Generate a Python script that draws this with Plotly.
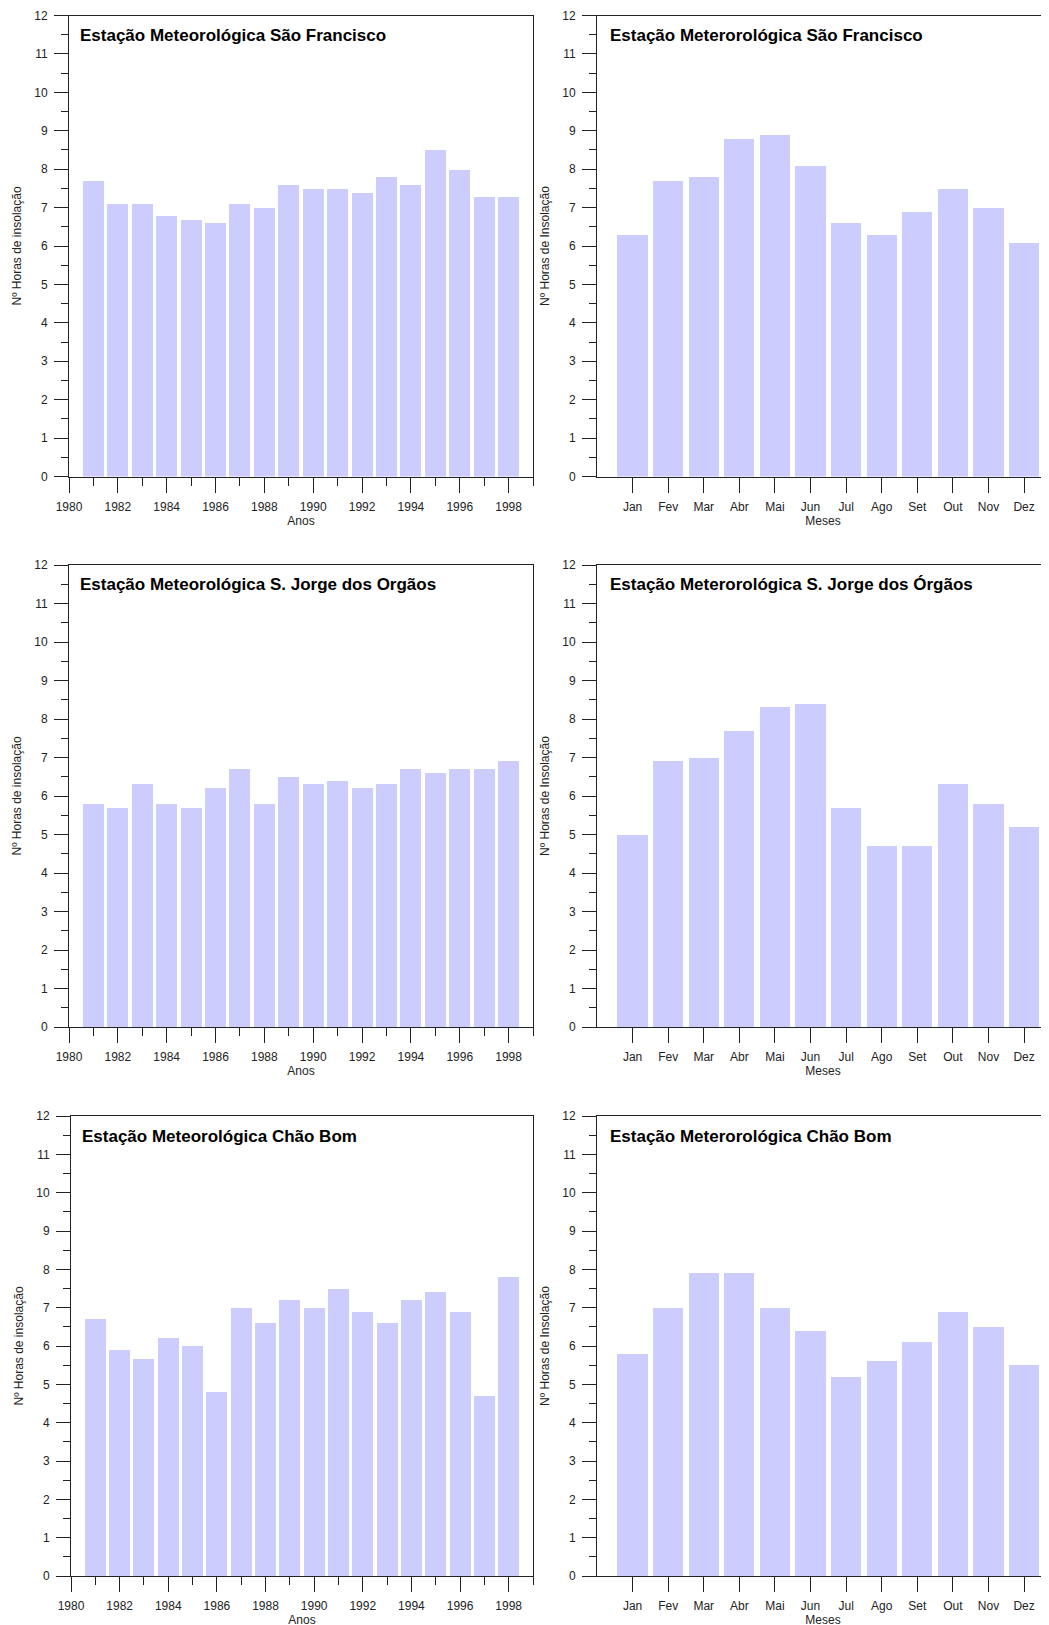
from plotly.graph_objects import Figure as plotly_Figure, Bar as plotly_Bar

# yearly means (1981-1998) and monthly means, hours of sunshine
anos = list(range(1981, 1999))
meses = ["Jan", "Fev", "Mar", "Abr", "Mai", "Jun", "Jul", "Ago", "Set", "Out", "Nov", "Dez"]

sao_francisco_anos = [7.7, 7.1, 7.1, 6.8, 6.7, 6.6, 7.1, 7.0, 7.6, 7.5, 7.5, 7.4, 7.8, 7.6, 8.5, 8.0, 7.3, 7.3]
sao_francisco_meses = [6.3, 7.7, 7.8, 8.8, 8.9, 8.1, 6.6, 6.3, 6.9, 7.5, 7.0, 6.1]

s_jorge_anos = [5.8, 5.7, 6.3, 5.8, 5.7, 6.2, 6.7, 5.8, 6.5, 6.3, 6.4, 6.2, 6.3, 6.7, 6.6, 6.7, 6.7, 6.9]
s_jorge_meses = [5.0, 6.9, 7.0, 7.7, 8.3, 8.4, 5.7, 4.7, 4.7, 6.3, 5.8, 5.2]

chao_bom_anos = [6.7, 5.9, 5.65, 6.2, 6.0, 4.8, 7.0, 6.6, 7.2, 7.0, 7.5, 6.9, 6.6, 7.2, 7.4, 6.9, 4.7, 7.8]
chao_bom_meses = [5.8, 7.0, 7.9, 7.9, 7.0, 6.4, 5.2, 5.6, 6.1, 6.9, 6.5, 5.5]

titulos_anos = [
    "Estação Meteorológica São Francisco",
    "Estação Meteorológica S. Jorge dos Orgãos",
    "Estação Meteorológica Chão Bom",
]
titulos_meses = [
    "Estação Meterorológica São Francisco",
    "Estação Meterorológica S. Jorge dos Órgãos",
    "Estação Meterorológica Chão Bom",
]

BAR_COLOR = "#ccccff"
LINE_COLOR = "#222222"
FONT = "Liberation Sans, Arial, sans-serif"

W, H = 1049, 1625
OFF = 8  # page body margin
row_px = [(15.5, 476.5), (565, 1027), (1116, 1576)]
left_px = [(69, 533), (69, 533), (71, 533)]
right_px = (597, 1049)

fig = plotly_Figure()
tick_font = dict(family=FONT, size=12, color="#222")
title_font = dict(family=FONT, size=12, color="#222")


def sfx(n):
    return "" if n == 1 else str(n)


def y_axis_dict(y_dom, anchor, y_title, mirror):
    return dict(
        domain=y_dom,
        anchor=anchor,
        automargin=False,
        range=[0, 12],
        tick0=0,
        dtick=1,
        ticks="outside",
        ticklen=14,
        tickwidth=1,
        tickcolor=LINE_COLOR,
        minor=dict(ticks="outside", dtick=0.5, ticklen=7, tickcolor=LINE_COLOR),
        showline=True,
        linecolor=LINE_COLOR,
        linewidth=1,
        mirror=mirror,
        showgrid=False,
        zeroline=False,
        tickfont=tick_font,
        ticklabelstandoff=4,
        title=dict(text=y_title, font=title_font, standoff=10),
    )


layout_axes = {}
for i in range(3):
    top_px, bot_px = row_px[i]
    y_dom = [1 - (bot_px - OFF) / H, 1 - (top_px - OFF) / H]
    lx = [(left_px[i][0] - OFF) / W, (left_px[i][1] - OFF) / W]
    rx = [(right_px[0] - OFF) / W, (right_px[1] - OFF) / W]
    sl = sfx(2 * i + 1)
    sr = sfx(2 * i + 2)
    x_title_standoff = 0 if i == 2 else 2

    fig.add_trace(
        plotly_Bar(
            x=anos,
            y=[sao_francisco_anos, s_jorge_anos, chao_bom_anos][i],
            width=0.86,
            marker=dict(color=BAR_COLOR, line=dict(width=0)),
            xaxis=f"x{sl}",
            yaxis=f"y{sl}",
            showlegend=False,
        )
    )
    fig.add_trace(
        plotly_Bar(
            x=meses,
            y=[sao_francisco_meses, s_jorge_meses, chao_bom_meses][i],
            width=0.85,
            marker=dict(color=BAR_COLOR, line=dict(width=0)),
            xaxis=f"x{sr}",
            yaxis=f"y{sr}",
            showlegend=False,
        )
    )

    layout_axes[f"xaxis{sl}"] = dict(
        domain=lx,
        anchor=f"y{sl}",
        automargin=False,
        range=[1980, 1999],
        tick0=1980,
        dtick=2,
        ticks="outside",
        ticklen=15,
        tickcolor=LINE_COLOR,
        minor=dict(ticks="outside", dtick=1, ticklen=8, tickcolor=LINE_COLOR),
        showline=True,
        linecolor=LINE_COLOR,
        linewidth=1,
        mirror=True,
        showgrid=False,
        zeroline=False,
        tickfont=tick_font,
        ticklabelstandoff=4,
        title=dict(text="Anos", font=title_font, standoff=x_title_standoff),
    )
    layout_axes[f"yaxis{sl}"] = y_axis_dict(y_dom, f"x{sl}", "Nº Horas de insolação", True)
    layout_axes[f"xaxis{sr}"] = dict(
        domain=rx,
        anchor=f"y{sr}",
        automargin=False,
        type="category",
        range=[-1, 11.7],
        ticks="outside",
        ticklen=15,
        tickcolor=LINE_COLOR,
        showline=True,
        linecolor=LINE_COLOR,
        linewidth=1,
        mirror=True,
        showgrid=False,
        zeroline=False,
        tickfont=tick_font,
        ticklabelstandoff=4,
        title=dict(text="Meses", font=title_font, standoff=x_title_standoff),
    )
    layout_axes[f"yaxis{sr}"] = y_axis_dict(y_dom, f"x{sr}", "Nº Horas de Insolação", False)

    fig.add_annotation(
        text=titulos_anos[i],
        xref=f"x{sl} domain",
        yref=f"y{sl} domain",
        x=9 / ((lx[1] - lx[0]) * W),
        y=1 - 20 / (bot_px - top_px),
        xanchor="left",
        yanchor="middle",
        showarrow=False,
        font=dict(family=FONT, size=17, color="black", weight="bold"),
    )
    fig.add_annotation(
        text=titulos_meses[i],
        xref=f"x{sr} domain",
        yref=f"y{sr} domain",
        x=11 / ((rx[1] - rx[0]) * W),
        y=1 - 20 / (bot_px - top_px),
        xanchor="left",
        yanchor="middle",
        showarrow=False,
        font=dict(family=FONT, size=17, color="black", weight="bold"),
    )

fig.update_layout(
    width=W,
    height=H,
    margin=dict(l=0, r=0, t=0, b=0),
    plot_bgcolor="white",
    paper_bgcolor="white",
    bargap=0,
    **layout_axes,
)

fig.write_html("out.html")
